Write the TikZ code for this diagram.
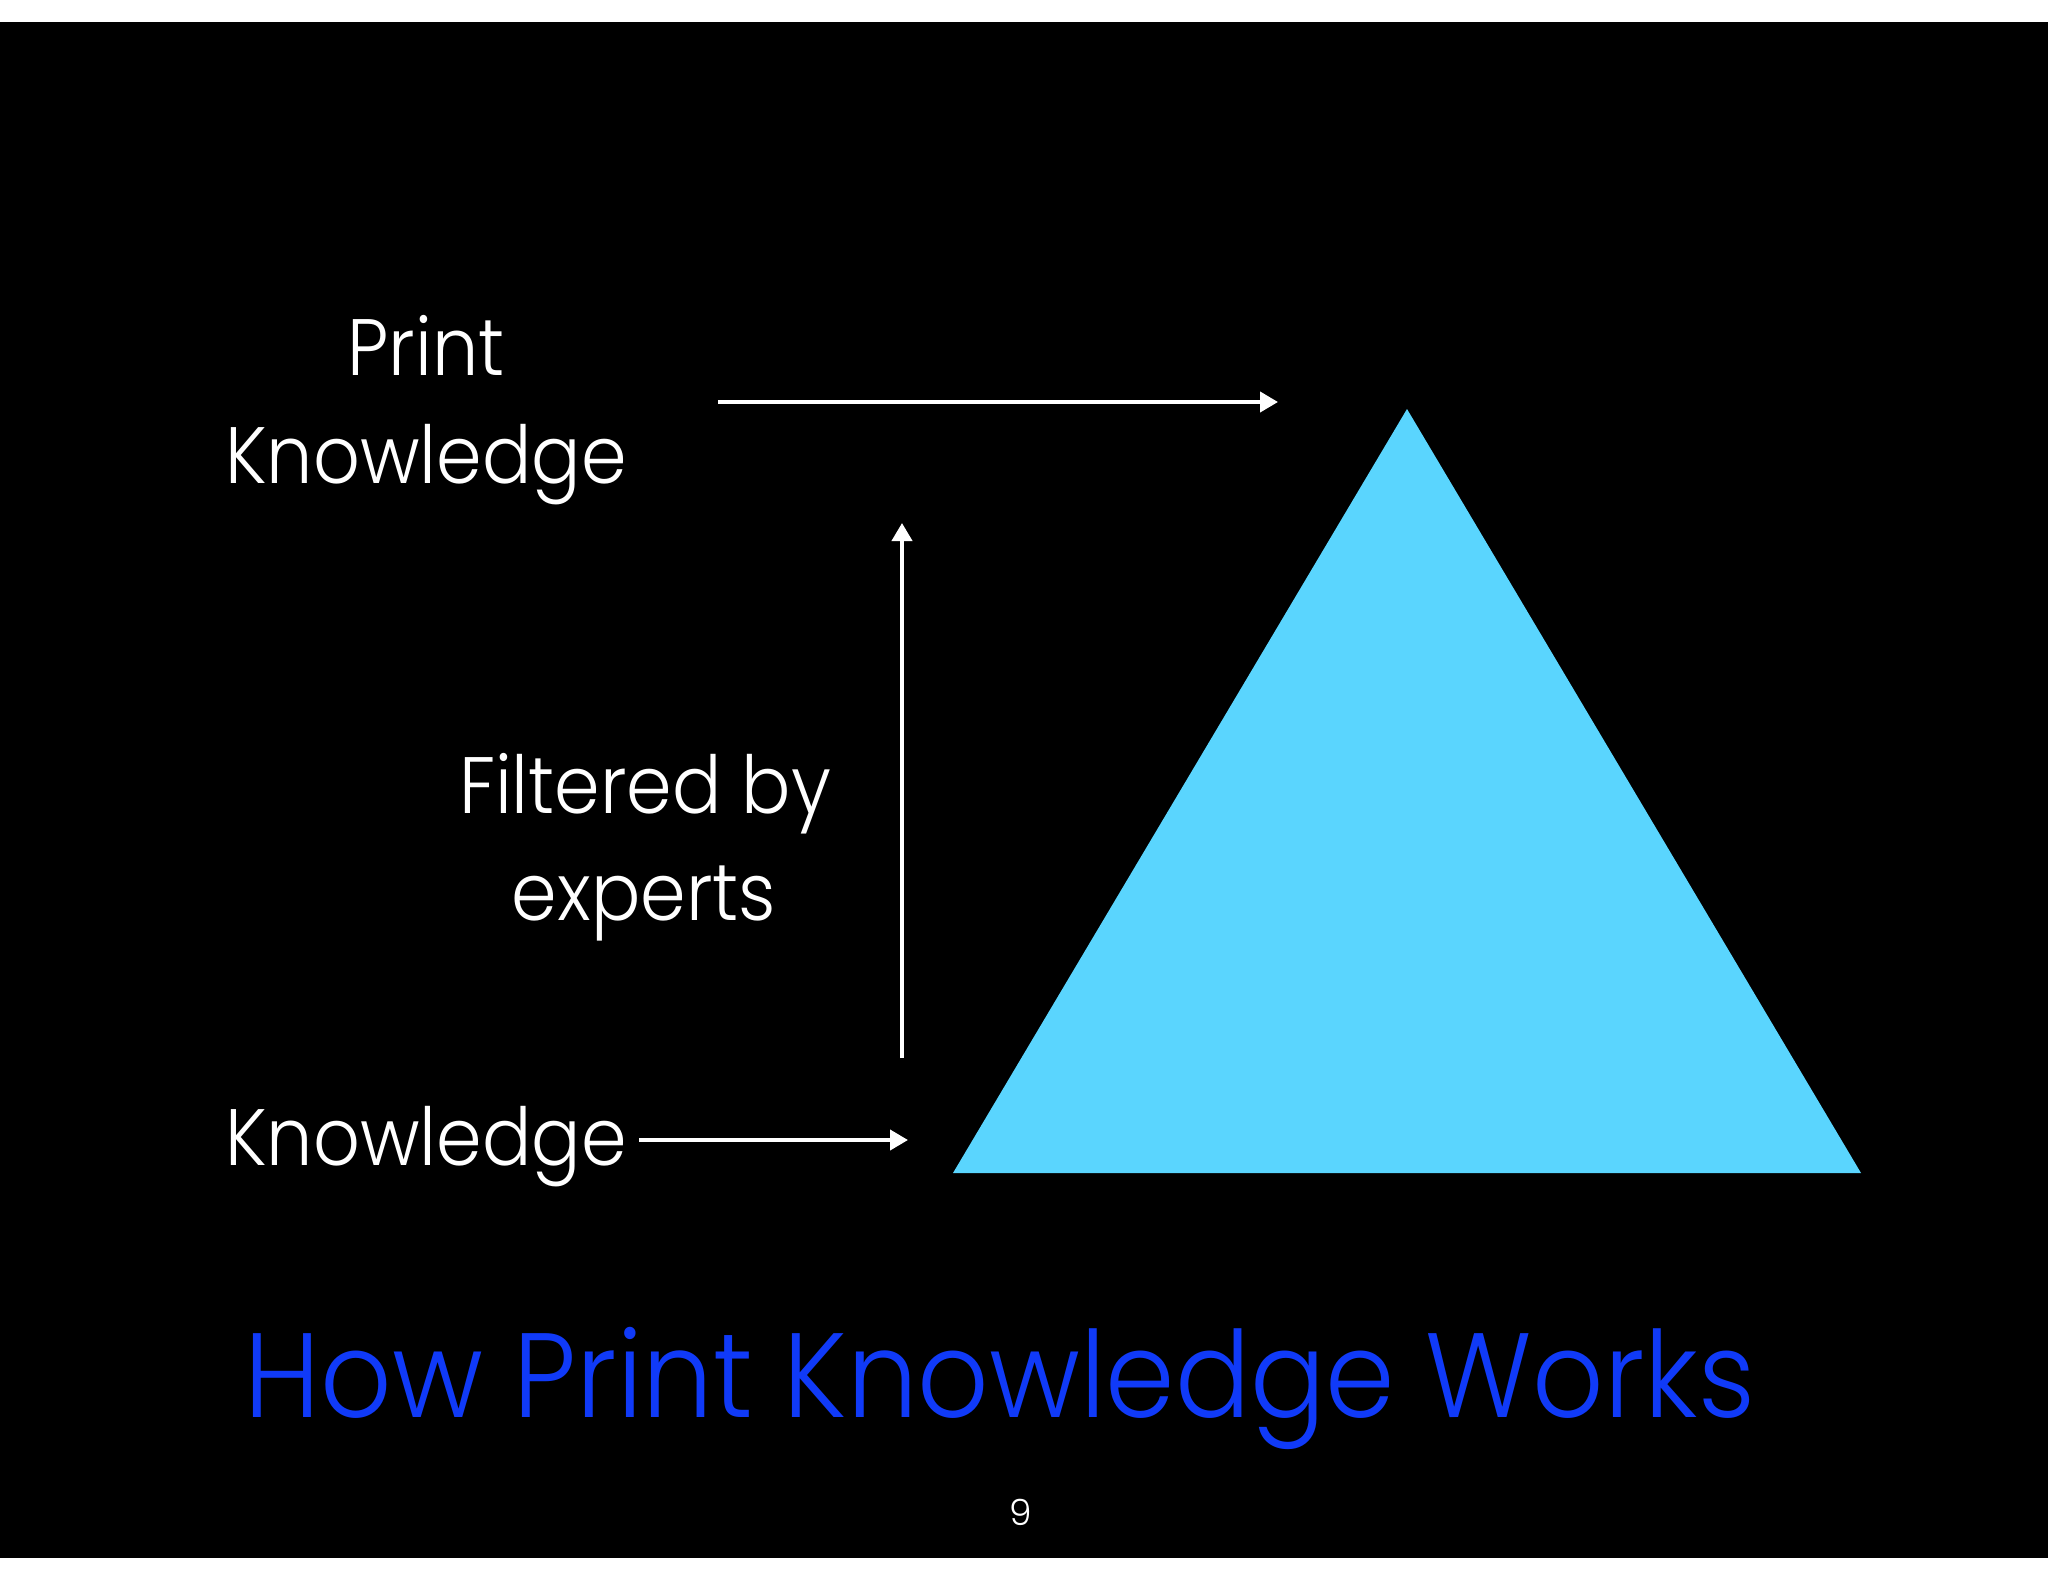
\documentclass[tikz,border=0pt]{standalone}
\usepackage{fontspec}
\usepackage{graphicx}
\setmainfont{Poppins}[UprightFont={* Light}]
\usetikzlibrary{arrows.meta}
\definecolor{tri}{RGB}{90,213,254}
\definecolor{ttl}{RGB}{16,58,248}
\newcommand{\nar}[1]{\scalebox{0.915}[1]{#1}}
\tikzset{
  lbl/.style={text=white, anchor=base, inner sep=0pt, font=\fontsize{80}{80}\selectfont},
  arr/.style={draw=white, line width=4pt, -{Triangle[length=18pt,width=20pt]}}
}
\begin{document}
\begin{tikzpicture}[x=1pt,y=-1pt]
\useasboundingbox (0,0) rectangle (2048,1582);
\fill[white] (0,0) rectangle (2048,1582);
\fill[black] (0,22) rectangle (2048,1558);
\fill[tri] (1407,409) -- (1861,1173) -- (953,1173) -- cycle;
\node[lbl] (print) at (426,375) {\nar{Print}};
\node[lbl] (pk) at (426,483) {\nar{Knowledge}};
\node[lbl] (filt) at (645,813) {\nar{Filtered by}};
\node[lbl] (exp) at (644,920) {\nar{experts}};
\node[lbl] (kn) at (426,1165) {\nar{Knowledge}};
\node[text=ttl, anchor=base, inner sep=0pt, font=\fontsize{120}{120}\selectfont] (title) at (1000,1417) {\scalebox{0.93}[1]{How Print Knowledge Works}};
\node[text=white, anchor=base, inner sep=0pt, font=\fontsize{36}{36}\selectfont] (num) at (1021,1525) {9};
\coordinate (a1s) at (718,402);
\coordinate (a1e) at (1278,402);
\coordinate (a2s) at (902,1058);
\coordinate (a2e) at (902,523);
\coordinate (a3s) at (639,1140);
\coordinate (a3e) at (908,1140);
\draw[arr] (a1s) -- (a1e);
\draw[arr] (a2s) -- (a2e);
\draw[arr] (a3s) -- (a3e);
\end{tikzpicture}
\end{document}
